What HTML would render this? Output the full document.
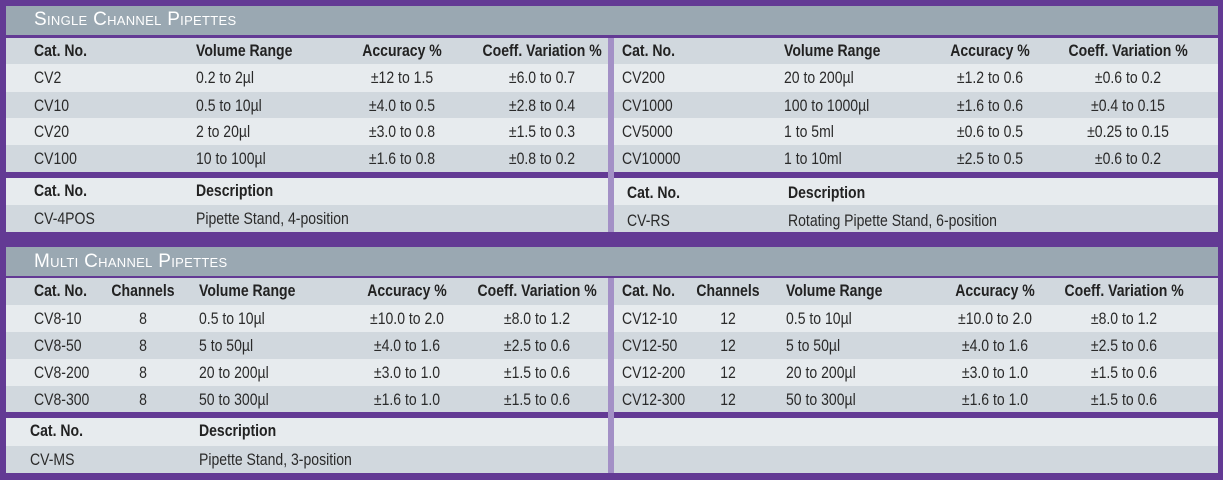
<!DOCTYPE html>
<html><head><meta charset="utf-8"><style>
*{margin:0;padding:0;box-sizing:border-box}
body{width:1223px;height:480px;background:#633a94;position:relative;overflow:hidden;font-family:"Liberation Sans",sans-serif;color:#2a2a2a}
.r{position:absolute;height:27px}
.d{background:#d1d8de}.l{background:#e7ebee}
.bar{position:absolute;left:6px;width:1212px;background:#9aa8b2;color:#fff;font-size:19px;padding-left:28px;letter-spacing:0.3px;font-variant:small-caps}
.t{position:absolute;top:5px;font-size:16.5px;white-space:nowrap;transform:scaleX(0.85);transform-origin:left}
.c{position:absolute;top:5px;font-size:16.5px;white-space:nowrap;text-align:center;width:140px;transform:scaleX(0.85)}
.h .t,.h .c{font-weight:bold;color:#222;top:4px}
.div{position:absolute;left:608px;width:6px;background:#a390c6}
</style></head><body>
<div class="bar" style="top:6px;height:29px;line-height:27px">Single Channel Pipettes</div>

<div class="r d h" style="left:6px;width:602px;top:38px;height:26px"><span class="t" style="left:28px">Cat. No.</span><span class="t" style="left:190px">Volume Range</span><span class="c" style="left:326px">Accuracy %</span><span class="c" style="left:466px">Coeff. Variation %</span></div>
<div class="r l" style="left:6px;width:602px;top:64px;height:28px"><span class="t" style="left:28px">CV2</span><span class="t" style="left:190px">0.2 to 2µl</span><span class="c" style="left:326px">±12 to 1.5</span><span class="c" style="left:466px">±6.0 to 0.7</span></div>
<div class="r d" style="left:6px;width:602px;top:92px;height:26px"><span class="t" style="left:28px">CV10</span><span class="t" style="left:190px">0.5 to 10µl</span><span class="c" style="left:326px">±4.0 to 0.5</span><span class="c" style="left:466px">±2.8 to 0.4</span></div>
<div class="r l" style="left:6px;width:602px;top:118px;height:27px"><span class="t" style="left:28px">CV20</span><span class="t" style="left:190px">2 to 20µl</span><span class="c" style="left:326px">±3.0 to 0.8</span><span class="c" style="left:466px">±1.5 to 0.3</span></div>
<div class="r d" style="left:6px;width:602px;top:145px;height:27px"><span class="t" style="left:28px">CV100</span><span class="t" style="left:190px">10 to 100µl</span><span class="c" style="left:326px">±1.6 to 0.8</span><span class="c" style="left:466px">±0.8 to 0.2</span></div>

<div class="r d h" style="left:614px;width:604px;top:38px;height:26px"><span class="t" style="left:8px">Cat. No.</span><span class="t" style="left:170px">Volume Range</span><span class="c" style="left:306px">Accuracy %</span><span class="c" style="left:444px">Coeff. Variation %</span></div>
<div class="r l" style="left:614px;width:604px;top:64px;height:28px"><span class="t" style="left:8px">CV200</span><span class="t" style="left:170px">20 to 200µl</span><span class="c" style="left:306px">±1.2 to 0.6</span><span class="c" style="left:444px">±0.6 to 0.2</span></div>
<div class="r d" style="left:614px;width:604px;top:92px;height:26px"><span class="t" style="left:8px">CV1000</span><span class="t" style="left:170px">100 to 1000µl</span><span class="c" style="left:306px">±1.6 to 0.6</span><span class="c" style="left:444px">±0.4 to 0.15</span></div>
<div class="r l" style="left:614px;width:604px;top:118px;height:27px"><span class="t" style="left:8px">CV5000</span><span class="t" style="left:170px">1 to 5ml</span><span class="c" style="left:306px">±0.6 to 0.5</span><span class="c" style="left:444px">±0.25 to 0.15</span></div>
<div class="r d" style="left:614px;width:604px;top:145px;height:27px"><span class="t" style="left:8px">CV10000</span><span class="t" style="left:170px">1 to 10ml</span><span class="c" style="left:306px">±2.5 to 0.5</span><span class="c" style="left:444px">±0.6 to 0.2</span></div>

<div class="r l h" style="left:6px;width:602px;top:178px;height:27px"><span class="t" style="left:28px">Cat. No.</span><span class="t" style="left:190px">Description</span></div>
<div class="r d" style="left:6px;width:602px;top:205px;height:27px"><span class="t" style="left:28px">CV-4POS</span><span class="t" style="left:190px">Pipette Stand, 4-position</span></div>
<div class="r l h" style="left:614px;width:604px;top:178px;height:27px"><span class="t" style="left:13px;top:6px">Cat. No.</span><span class="t" style="left:174px;top:6px">Description</span></div>
<div class="r d" style="left:614px;width:604px;top:205px;height:27px"><span class="t" style="left:13px;top:7px">CV-RS</span><span class="t" style="left:174px;top:7px">Rotating Pipette Stand, 6-position</span></div>
<div class="div" style="top:38px;height:194px"></div>

<div class="bar" style="top:247px;height:29px;line-height:29px">Multi Channel Pipettes</div>

<div class="r d h" style="left:6px;width:602px;top:278px;height:27px"><span class="t" style="left:28px">Cat. No.</span><span class="c" style="left:67px">Channels</span><span class="t" style="left:193px">Volume Range</span><span class="c" style="left:331px">Accuracy %</span><span class="c" style="left:461px">Coeff. Variation %</span></div>
<div class="r l" style="left:6px;width:602px;top:305px;height:27px"><span class="t" style="left:28px">CV8-10</span><span class="c" style="left:67px">8</span><span class="t" style="left:193px">0.5 to 10µl</span><span class="c" style="left:331px">±10.0 to 2.0</span><span class="c" style="left:461px">±8.0 to 1.2</span></div>
<div class="r d" style="left:6px;width:602px;top:332px;height:27px"><span class="t" style="left:28px">CV8-50</span><span class="c" style="left:67px">8</span><span class="t" style="left:193px">5 to 50µl</span><span class="c" style="left:331px">±4.0 to 1.6</span><span class="c" style="left:461px">±2.5 to 0.6</span></div>
<div class="r l" style="left:6px;width:602px;top:359px;height:27px"><span class="t" style="left:28px">CV8-200</span><span class="c" style="left:67px">8</span><span class="t" style="left:193px">20 to 200µl</span><span class="c" style="left:331px">±3.0 to 1.0</span><span class="c" style="left:461px">±1.5 to 0.6</span></div>
<div class="r d" style="left:6px;width:602px;top:386px;height:26px"><span class="t" style="left:28px">CV8-300</span><span class="c" style="left:67px">8</span><span class="t" style="left:193px">50 to 300µl</span><span class="c" style="left:331px">±1.6 to 1.0</span><span class="c" style="left:461px">±1.5 to 0.6</span></div>

<div class="r d h" style="left:614px;width:604px;top:278px;height:27px"><span class="t" style="left:8px">Cat. No.</span><span class="c" style="left:44px">Channels</span><span class="t" style="left:172px">Volume Range</span><span class="c" style="left:311px">Accuracy %</span><span class="c" style="left:440px">Coeff. Variation %</span></div>
<div class="r l" style="left:614px;width:604px;top:305px;height:27px"><span class="t" style="left:8px">CV12-10</span><span class="c" style="left:44px">12</span><span class="t" style="left:172px">0.5 to 10µl</span><span class="c" style="left:311px">±10.0 to 2.0</span><span class="c" style="left:440px">±8.0 to 1.2</span></div>
<div class="r d" style="left:614px;width:604px;top:332px;height:27px"><span class="t" style="left:8px">CV12-50</span><span class="c" style="left:44px">12</span><span class="t" style="left:172px">5 to 50µl</span><span class="c" style="left:311px">±4.0 to 1.6</span><span class="c" style="left:440px">±2.5 to 0.6</span></div>
<div class="r l" style="left:614px;width:604px;top:359px;height:27px"><span class="t" style="left:8px">CV12-200</span><span class="c" style="left:44px">12</span><span class="t" style="left:172px">20 to 200µl</span><span class="c" style="left:311px">±3.0 to 1.0</span><span class="c" style="left:440px">±1.5 to 0.6</span></div>
<div class="r d" style="left:614px;width:604px;top:386px;height:26px"><span class="t" style="left:8px">CV12-300</span><span class="c" style="left:44px">12</span><span class="t" style="left:172px">50 to 300µl</span><span class="c" style="left:311px">±1.6 to 1.0</span><span class="c" style="left:440px">±1.5 to 0.6</span></div>

<div class="r l h" style="left:6px;width:602px;top:418px;height:28px"><span class="t" style="left:24px">Cat. No.</span><span class="t" style="left:193px">Description</span></div>
<div class="r d" style="left:6px;width:602px;top:446px;height:27px"><span class="t" style="left:24px">CV-MS</span><span class="t" style="left:193px">Pipette Stand, 3-position</span></div>
<div class="r l" style="left:614px;width:604px;top:418px;height:28px"></div>
<div class="r d" style="left:614px;width:604px;top:446px;height:27px"></div>
<div class="div" style="top:278px;height:195px"></div>
</body></html>
